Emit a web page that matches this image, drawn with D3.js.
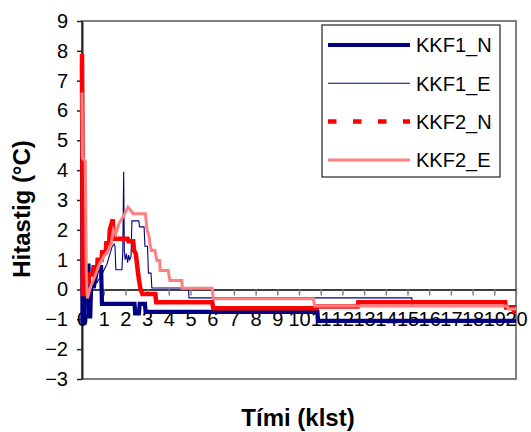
<!DOCTYPE html>
<html>
<head>
<meta charset="utf-8">
<script src="https://cdn.jsdelivr.net/npm/d3@7"></script>
<style>
  html, body { margin: 0; padding: 0; background: #fff; }
  svg { display: block; font-family: "Liberation Sans", Arial, sans-serif; }
</style>
</head>
<body>
<svg id="chart" width="531" height="432"></svg>
<script>
// Hourly temperature change (°C) against elapsed time (hours)
const seriesNames = ["KKF1_N", "KKF1_E", "KKF2_N", "KKF2_E"];

const kkf1nTime = [0, 0.02, 0.12, 0.14, 0.3, 0.33, 0.38, 0.42, 0.55, 0.6, 0.68, 0.8, 0.88, 0.92, 2.42, 2.45, 2.62, 2.66, 2.9, 2.93, 10.85, 10.88, 20];
const kkf1nTemp = [7.6, -1.1, -1.1, 0.8, 0.8, -0.9, -0.9, 0.1, 0.1, 0.3, 0.6, 0.75, 0.75, -0.48, -0.48, -0.8, -0.8, -0.48, -0.48, -0.75, -0.75, -1.05, -1.05];

const kkf1eTime = [0, 0.05, 0.15, 0.31, 0.46, 0.69, 0.92, 1.15, 1.38, 1.48, 1.52, 1.56, 1.84, 1.88, 1.92, 1.95, 1.99, 2.05, 2.1, 2.15, 2.2, 2.26, 2.3, 2.62, 2.65, 2.86, 2.9, 3.02, 3.06, 3.18, 3.22, 4.9, 4.93, 15.2, 15.22, 20];
const kkf1eTemp = [4.35, -0.7, -0.62, -0.17, 0.17, 0.23, 0.51, 0.85, 1.42, 1.53, 1.45, 0.66, 0.66, 1.3, 3.95, 1.3, 1.0, 1.2, 0.9, 1.15, 1.0, 1.1, 2.3, 2.3, 2.1, 2.1, 1.45, 1.45, 0.55, 0.55, 0.05, 0.05, -0.28, -0.28, -0.55, -0.55];

const kkf2nTime = [0, 0.04, 0.12, 0.15, 0.3, 0.33, 0.5, 0.53, 0.7, 0.72, 0.9, 0.93, 1.1, 1.12, 1.25, 1.28, 1.42, 1.46, 2.1, 2.14, 2.36, 2.4, 2.48, 2.55, 2.62, 2.7, 2.78, 3.38, 3.42, 6.0, 6.05, 10.82, 10.86, 12.7, 12.73, 19.5, 19.54, 19.85, 19.9, 20];
const kkf2nTemp = [7.9, -0.15, -0.15, 0.25, 0.25, 0.5, 0.5, 0.75, 0.75, 1.0, 1.0, 1.25, 1.25, 1.55, 1.55, 2.0, 2.35, 1.7, 1.7, 1.62, 1.62, 1.3, 1.2, 0.75, 0.35, 0.0, -0.15, -0.15, -0.43, -0.43, -0.63, -0.63, -0.57, -0.57, -0.43, -0.43, -0.6, -0.6, -0.72, -0.72];

const kkf2eTime = [0, 0.02, 0.15, 0.2, 0.25, 0.4, 0.6, 0.8, 1.0, 1.2, 1.35, 1.45, 1.55, 1.7, 1.9, 2.12, 2.3, 2.35, 2.92, 3.0, 3.1, 3.13, 3.2, 3.36, 3.45, 3.58, 3.6, 3.97, 4.05, 4.6, 4.62, 6.0, 6.05, 10.66, 10.72, 19.6, 19.65, 20];
const kkf2eTemp = [6.6, 4.4, 4.3, 0.5, -0.3, 0.1, 0.45, 0.85, 1.1, 1.3, 1.55, 2.0, 1.85, 2.2, 2.45, 2.76, 2.6, 2.54, 2.54, 2.0, 1.75, 1.53, 1.31, 1.31, 0.97, 0.97, 0.64, 0.64, 0.3, 0.3, 0.04, 0.04, -0.31, -0.31, -0.55, -0.55, -0.65, -0.65];

const xTicks = d3.range(0, 21);
const yTicks = d3.range(-3, 10);

const svg = d3.select("#chart");
const plotLeft = 82, plotRight = 516, plotTop = 21, plotBottom = 379;

const x = d3.scaleLinear().domain([0, 20]).range([plotLeft, plotRight]);
const y = d3.scaleLinear().domain([-3, 9]).range([plotBottom, plotTop]);

// plot-area frame
svg.append("rect")
  .attr("x", plotLeft).attr("y", plotTop)
  .attr("width", plotRight - plotLeft).attr("height", plotBottom - plotTop)
  .attr("fill", "none").attr("stroke", "#808080").attr("stroke-width", 2);

// y axis
const yAxis = svg.append("g")
  .attr("transform", `translate(${plotLeft},0)`)
  .call(d3.axisLeft(y).tickValues(yTicks).tickSize(5).tickPadding(9).tickSizeOuter(0));
yAxis.select(".domain").attr("stroke", "#222").attr("stroke-width", 2);
yAxis.selectAll(".tick line").attr("stroke", "#222").attr("stroke-width", 1.5);
yAxis.selectAll(".tick text")
  .attr("font-size", 20).attr("font-family", "Liberation Sans, Arial, sans-serif").attr("fill", "#000");

// x axis through zero
const xAxis = svg.append("g")
  .attr("transform", `translate(0,${y(0)})`)
  .call(d3.axisBottom(x).tickValues(xTicks).tickSize(6).tickPadding(16).tickSizeOuter(0));
xAxis.select(".domain").attr("stroke", "#000").attr("stroke-width", 1.5);
xAxis.selectAll(".tick line").attr("stroke", "#808080").attr("stroke-width", 1.5);
xAxis.selectAll(".tick text")
  .attr("font-size", 20).attr("font-family", "Liberation Sans, Arial, sans-serif").attr("fill", "#000");

// series
const line = d3.line().x(d => x(d[0])).y(d => y(d[1]));
const series = [
  { name: seriesNames[0], t: kkf1nTime, v: kkf1nTemp, color: "#000080", width: 4.2, legendDash: null },
  { name: seriesNames[1], t: kkf1eTime, v: kkf1eTemp, color: "#000080", width: 1.1, legendDash: null },
  { name: seriesNames[2], t: kkf2nTime, v: kkf2nTemp, color: "#ff0000", width: 4.5, legendDash: "8.5,16.5" },
  { name: seriesNames[3], t: kkf2eTime, v: kkf2eTemp, color: "#ff8080", width: 3, legendDash: null }
];

svg.append("g").selectAll("path")
  .data(series)
  .join("path")
  .attr("d", s => line(s.t.map((t, i) => [t, s.v[i]])))
  .attr("fill", "none")
  .attr("stroke", s => s.color)
  .attr("stroke-width", s => s.width)
  .attr("stroke-linejoin", "miter");

// legend
const legend = svg.append("g");
legend.append("rect")
  .attr("x", 322).attr("y", 25).attr("width", 178).attr("height", 152)
  .attr("fill", "#fff").attr("stroke", "#222").attr("stroke-width", 1.2);
const rows = legend.selectAll("g.row")
  .data(series)
  .join("g")
  .attr("class", "row")
  .attr("transform", (s, i) => `translate(0,${45 + i * 38.3})`);
rows.append("line")
  .attr("x1", 328).attr("x2", 410).attr("y1", 0).attr("y2", 0)
  .attr("stroke", s => s.color)
  .attr("stroke-width", s => s.width)
  .attr("stroke-dasharray", s => s.legendDash);
rows.append("text")
  .attr("x", 416).attr("y", 7.2)
  .attr("font-size", 20).attr("fill", "#000")
  .text(s => s.name);

// axis titles
svg.append("text")
  .attr("transform", "translate(30,209) rotate(-90)")
  .attr("text-anchor", "middle")
  .attr("font-size", 24).attr("font-weight", "bold")
  .text("Hitastig (°C)");
svg.append("text")
  .attr("x", 298).attr("y", 426)
  .attr("text-anchor", "middle")
  .attr("font-size", 24).attr("font-weight", "bold")
  .text("Tími (klst)");
</script>
</body>
</html>
